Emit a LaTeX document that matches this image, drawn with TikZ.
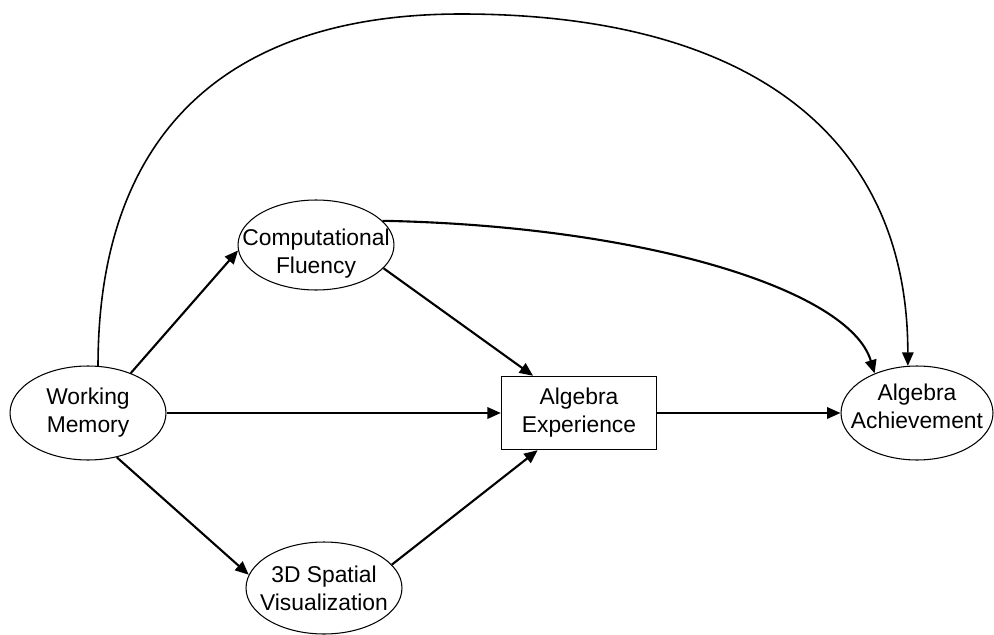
\documentclass[tikz,border=0pt]{standalone}
\usepackage{fontspec}
\setmainfont{Liberation Sans}
\usetikzlibrary{shapes.geometric,arrows.meta}
\begin{document}
\begin{tikzpicture}[x=0.02cm,y=-0.02cm,
  every node/.style={font=\fontsize{13}{16}\selectfont, align=center, inner sep=0pt},
  latent/.style={ellipse, draw, line width=0.6pt, minimum width=3.12cm, minimum height=1.88cm},
  observed/.style={rectangle, draw, line width=0.8pt, minimum width=3.1cm, minimum height=1.46cm},
  path/.style={line width=1.2pt, -{Triangle[length=0.27cm,width=0.23cm]}},
  thinpath/.style={line width=0.9pt, -{Triangle[length=0.27cm,width=0.23cm]}}]
  \useasboundingbox (0,0) rectangle (994,635);

  % constructs: fixed-size ellipses, text set in a centred label
  \node[latent, label=center:{Working\\Memory}] (WM) at (88,413) {};
  \node[latent, minimum height=1.8cm, label={[yshift=-5pt]center:{Computational\\Fluency}}] (CF) at (316,245) {};
  \node[latent, minimum height=1.84cm, label=center:{3D Spatial\\Visualization}] (SV) at (324,588) {};
  \node[observed] (AE) at (579,413) {Algebra\\Experience};
  \node[latent, minimum width=3.04cm, label={[yshift=4pt]center:{Algebra\\Achievement}}] (AA) at (917,413) {};
  \coordinate (apex) at (461,14);

  % straight paths
  \draw[path] (WM.43) -- (CF.184);
  \draw[path] (WM.east) -- (AE.west);
  \draw[path] (WM.-57) -- (SV.170);
  \draw[path] (CF.-19) -- (AE.141);
  \draw[path] (SV.19) -- (AE.222);
  \draw[path] (AE.east) -- (AA.west);

  % curved paths
  \draw[path] (CF.20) .. controls +(260,5) and +(-25,-84) .. (AA.137);
  \draw[thinpath] (WM.78) .. controls +(0,-230) and +(-237,0) .. (apex)
                   .. controls +(290,0) and +(0,-229) .. (AA.101);
\end{tikzpicture}
\end{document}
